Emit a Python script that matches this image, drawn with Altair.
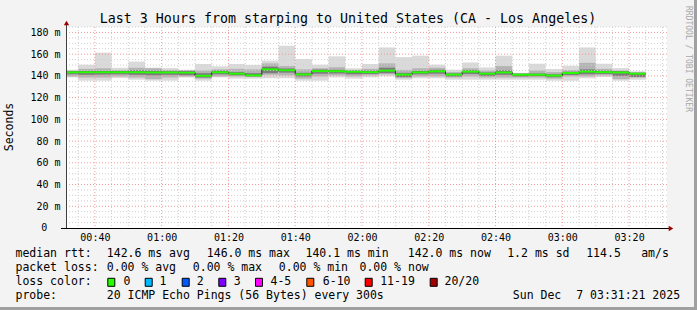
import altair as alt
import pandas as pd

# ---------------- data ----------------
times = ["00:30", "00:35", "00:40", "00:45", "00:50", "00:55", "01:00", "01:05",
         "01:10", "01:15", "01:20", "01:25", "01:30", "01:35", "01:40", "01:45",
         "01:50", "01:55", "02:00", "02:05", "02:10", "02:15", "02:20", "02:25",
         "02:30", "02:35", "02:40", "02:45", "02:50", "02:55", "03:00", "03:05",
         "03:10", "03:15", "03:20"]
median_ms = [143.3, 143.4, 143.4, 143.4, 143.4, 143.2, 143.2, 143.0, 140.1, 143.4,
             142.0, 140.5, 146.0, 145.2, 141.4, 144.4, 144.3, 143.8, 143.5, 144.8,
             141.2, 143.3, 144.2, 141.2, 143.9, 142.0, 143.2, 141.1, 141.1, 140.3,
             142.6, 143.9, 143.5, 143.2, 142.0]
min_ms = [138.6, 135.6, 135.6, 138.0, 136.5, 135.6, 135.6, 138.6, 135.6, 138.6,
          137.5, 137.5, 137.8, 137.8, 135.6, 135.6, 138.6, 137.5, 138.6, 139.6,
          136.5, 137.8, 137.8, 136.5, 136.5, 136.5, 136.5, 136.5, 136.5, 135.6,
          135.6, 137.8, 139.0, 135.6, 136.5]
max_ms = [145.7, 150.3, 161.4, 147.5, 153.2, 147.6, 147.2, 145.7, 150.9, 148.8,
          150.9, 150.0, 154.0, 167.8, 155.5, 150.3, 158.0, 147.0, 150.9, 166.2,
          157.3, 158.6, 150.3, 145.7, 152.4, 147.8, 158.6, 142.8, 151.2, 146.3,
          149.4, 166.2, 151.2, 147.2, 144.2]
q_hi_ms = [144.8, 146.5, 147.0, 145.5, 147.5, 147.0, 145.5, 145.5, 145.0, 146.0,
           146.5, 146.0, 151.5, 149.0, 146.0, 147.0, 148.0, 145.5, 146.5, 151.5,
           145.5, 147.0, 147.5, 143.5, 147.0, 145.0, 149.0, 142.5, 145.0, 143.5,
           145.5, 152.0, 146.5, 145.0, 143.5]
q_lo_ms = [139.5, 138.5, 138.5, 139.5, 138.5, 137.0, 138.5, 139.5, 137.5, 139.5,
           139.5, 139.0, 141.0, 140.5, 137.5, 139.5, 140.5, 139.5, 140.5, 141.5,
           138.0, 139.5, 139.5, 138.5, 139.5, 138.5, 138.5, 138.5, 138.5, 137.5,
           139.5, 139.5, 140.5, 137.0, 138.5]
in_hi_ms = [144.3, 144.6, 144.6, 144.5, 145.0, 144.8, 144.3, 144.5, 142.5, 144.8,
            143.5, 142.5, 148.5, 146.8, 142.8, 145.8, 145.6, 144.8, 144.8, 147.5,
            142.8, 144.6, 145.6, 142.3, 145.2, 143.2, 145.0, 142.0, 142.3, 141.5,
            143.8, 146.0, 144.8, 144.3, 142.8]
in_lo_ms = [141.5, 141.0, 141.2, 141.5, 141.0, 140.5, 141.0, 140.5, 138.5, 141.5,
            140.5, 139.5, 142.5, 143.0, 139.5, 142.0, 142.3, 141.5, 141.8, 142.5,
            139.0, 141.5, 142.0, 139.5, 141.8, 140.0, 141.0, 139.5, 139.8, 138.8,
            140.8, 141.5, 141.8, 140.0, 139.0]

title_text = "Last 3 Hours from starping to United States (CA - Los Angeles)"
y_title = "Seconds"
credit = "RRDTOOL / TOBI OETIKER"
y_tick_values = [0, 20, 40, 60, 80, 100, 120, 140, 160, 180]
x_tick_values = [40, 60, 80, 100, 120, 140, 160, 180, 200]

rtt_row = ["median rtt:", "142.6 ms avg", "146.0 ms max", "140.1 ms min",
           "142.0 ms now", "1.2 ms sd", "114.5", "am/s"]
loss_row = ["packet loss:", "0.00 % avg", "0.00 % max", "0.00 % min", "0.00 % now"]
loss_labels = ["0", "1", "2", "3", "4-5", "6-10", "11-19", "20/20"]
loss_colors = ["#26ff00", "#00b8ff", "#0059ff", "#7e00ff", "#ff00ff",
               "#ff5500", "#ff0000", "#a10000"]
probe_row = ["probe:", "20 ICMP Echo Pings (56 Bytes) every 300s", "Sun Dec", "7 03:31:21 2025"]

# ---------------- layout constants ----------------
PL, PT = 66, 27
W, H = 601, 201
XDOM = [31.35, 211.35]
YDOM = [0, 185]
FONT = "DejaVu Sans Mono"


def tmin(t):
    h, m = t.split(":")
    return int(h) * 60 + int(m)


t0 = [tmin(t) for t in times]
df = pd.DataFrame({
    "t0": t0, "t1": [t + 5 for t in t0],
    "med": median_ms, "lo": min_ms, "hi": max_ms,
    "qlo": q_lo_ms, "qhi": q_hi_ms, "ilo": in_lo_ms, "ihi": in_hi_ms,
})
df["mlo"] = df["med"] - 0.9
df["mhi"] = df["med"] + 0.9

line_df = pd.DataFrame({"t": t0 + [t0[-1] + 5], "med": median_ms + [median_ms[-1]]})

xscale = alt.Scale(domain=XDOM, nice=False, zero=False)
yscale = alt.Scale(domain=YDOM, nice=False, zero=False)

x_label_expr = ("(floor(datum.value/60) < 10 ? '0' : '') + floor(datum.value/60) + ':' + "
                "(datum.value % 60 < 10 ? '0' : '') + (datum.value % 60)")
y_label_expr = "datum.value == 0 ? '' : datum.value + ' m'"

xaxis = alt.Axis(values=x_tick_values, labelExpr=x_label_expr, grid=False, domain=False,
                 ticks=False, labelFont=FONT, labelFontSize=10, labelColor="black",
                 labelPadding=4, title=None, labelFlush=False, labelOverlap=False)
yaxis = alt.Axis(values=y_tick_values, labelExpr=y_label_expr, grid=False, domain=False,
                 ticks=False, labelFont=FONT, labelFontSize=10, labelColor="black",
                 labelPadding=6, title=None, labelOverlap=False)


def X(field):
    return alt.X(field, type="quantitative", scale=xscale, axis=xaxis)


def Y(field):
    return alt.Y(field, type="quantitative", scale=yscale, axis=yaxis)


def bandlayer(lo, hi, color):
    return alt.Chart(df).mark_rect(color=color, clip=True).encode(
        x=X("t0"), x2="t1", y=Y(lo), y2=hi,
    )


layers = [
    bandlayer("lo", "hi", "#dadada"),
    bandlayer("qlo", "qhi", "#b4b4b4"),
    bandlayer("ilo", "ihi", "#7c7c7c"),
]

# grid
minor_x = [m for m in range(35, 215, 5) if m % 20 != 0]
major_x = x_tick_values
minor_y = [v for v in range(5, 190, 5) if v % 20 != 0]
major_y = [v for v in y_tick_values if v > 0]

layers.append(alt.Chart(pd.DataFrame({"v": minor_x})).mark_rule(
    color="#cfcfcf", strokeDash=[1, 2], strokeWidth=1).encode(x=X("v")))
layers.append(alt.Chart(pd.DataFrame({"v": minor_y})).mark_rule(
    color="#cfcfcf", strokeDash=[1, 2], strokeWidth=1).encode(y=Y("v")))
layers.append(alt.Chart(pd.DataFrame({"v": major_x})).mark_rule(
    color="#f29a9a", strokeDash=[1, 2], strokeWidth=1).encode(x=X("v")))
layers.append(alt.Chart(pd.DataFrame({"v": major_y})).mark_rule(
    color="#f29a9a", strokeDash=[1, 2], strokeWidth=1).encode(y=Y("v")))

# "0" label on the y axis (rrdtool pads it, so it sits left of the unit column)
layers.append(alt.Chart(pd.DataFrame({"v": [0], "s": ["0"]})).mark_text(
    align="center", baseline="middle", font=FONT, fontSize=10, color="black").encode(
    x=alt.value(44.3 - PL), y=Y("v"), text="s:N"))

# median
layers.append(alt.Chart(line_df).mark_line(interpolate="step-after", color="#202020",
                                           strokeWidth=1, clip=True).encode(
    x=X("t"), y=Y("med")))
layers.append(alt.Chart(df).mark_rect(color=loss_colors[0], clip=True).encode(
    x=X("t0"), x2="t1", y=Y("mlo"), y2="mhi"))

one = pd.DataFrame({"a": [0]})

# axis lines and arrows
layers.append(alt.Chart(one).mark_rule(color="black", strokeWidth=1).encode(
    x=alt.value(-5), x2=alt.value(604), y=alt.value(H + 0.5)))
layers.append(alt.Chart(one).mark_rule(color="#404040", strokeWidth=1).encode(
    x=alt.value(0.5), y=alt.value(-3), y2=alt.value(H)))
layers.append(alt.Chart(one).mark_point(shape="triangle-right", filled=True, color="#a00000",
                                        size=28, opacity=1).encode(x=alt.value(605), y=alt.value(H + 0.5)))
layers.append(alt.Chart(one).mark_point(shape="triangle-up", filled=True, color="#a00000",
                                        size=28, opacity=1).encode(x=alt.value(0.5), y=alt.value(-4)))

# frame edges
layers.append(alt.Chart(one).mark_rect(color="#a0a0a0").encode(
    x=alt.value(W + 30 - 3), x2=alt.value(W + 30), y=alt.value(-PT), y2=alt.value(H + 82)))
layers.append(alt.Chart(one).mark_rect(color="#a0a0a0").encode(
    x=alt.value(-PL), x2=alt.value(W + 30), y=alt.value(H + 82 - 3), y2=alt.value(H + 82)))


def txt(x, y, s, size=11.5, color="black", align="left", angle=0):
    return alt.Chart(pd.DataFrame({"s": [s]})).mark_text(
        align=align, baseline="middle", font=FONT, fontSize=size, color=color, angle=angle
    ).encode(x=alt.value(x - PL), y=alt.value(y - PT), text="s:N")


layers.append(txt(348, 19, title_text, size=13.3, align="center"))
layers.append(txt(10, 127, y_title, size=11.5, align="center", angle=270))
layers.append(txt(687.5, 59, credit, size=8, color="#a8a8a8", align="center", angle=90))

rtt_x = [15.5, 106.8, 206.8, 305.5, 407.8, 507.2, 586.2, 641.2]
for x, s in zip(rtt_x, rtt_row):
    layers.append(txt(x, 254.3, s))
loss_x = [15.5, 106.8, 192.8, 278.8, 359.5]
for x, s in zip(loss_x, loss_row):
    layers.append(txt(x, 268.3, s))
layers.append(txt(15.5, 282.3, "loss color:"))
sq_x = [107.8, 145.2, 182.2, 218.8, 255.5, 306.8, 365.2, 430.2]
lab_x = [123.5, 159.5, 196.8, 233.8, 270.5, 322.8, 380.2, 444.5]
for sx, lx, c, s in zip(sq_x, lab_x, loss_colors, loss_labels):
    layers.append(alt.Chart(one).mark_rect(color=c, stroke="black", strokeWidth=1).encode(
        x=alt.value(sx - PL), x2=alt.value(sx - PL + 7), y=alt.value(278.3 - PT), y2=alt.value(286.3 - PT)))
    layers.append(txt(lx, 282.3, s))
probe_x = [15.5, 106.8, 512.8, 576.2]
for x, s in zip(probe_x, probe_row):
    layers.append(txt(x, 296.3, s))

chart = alt.layer(*layers).properties(
    width=W, height=H,
    padding={"left": PL, "top": PT, "right": 30, "bottom": 82},
    autosize="none",
    background="#f3f3f3",
).configure_view(fill="white", stroke=None)

chart.save("out.html", embed_options={"renderer": "svg", "actions": False})
